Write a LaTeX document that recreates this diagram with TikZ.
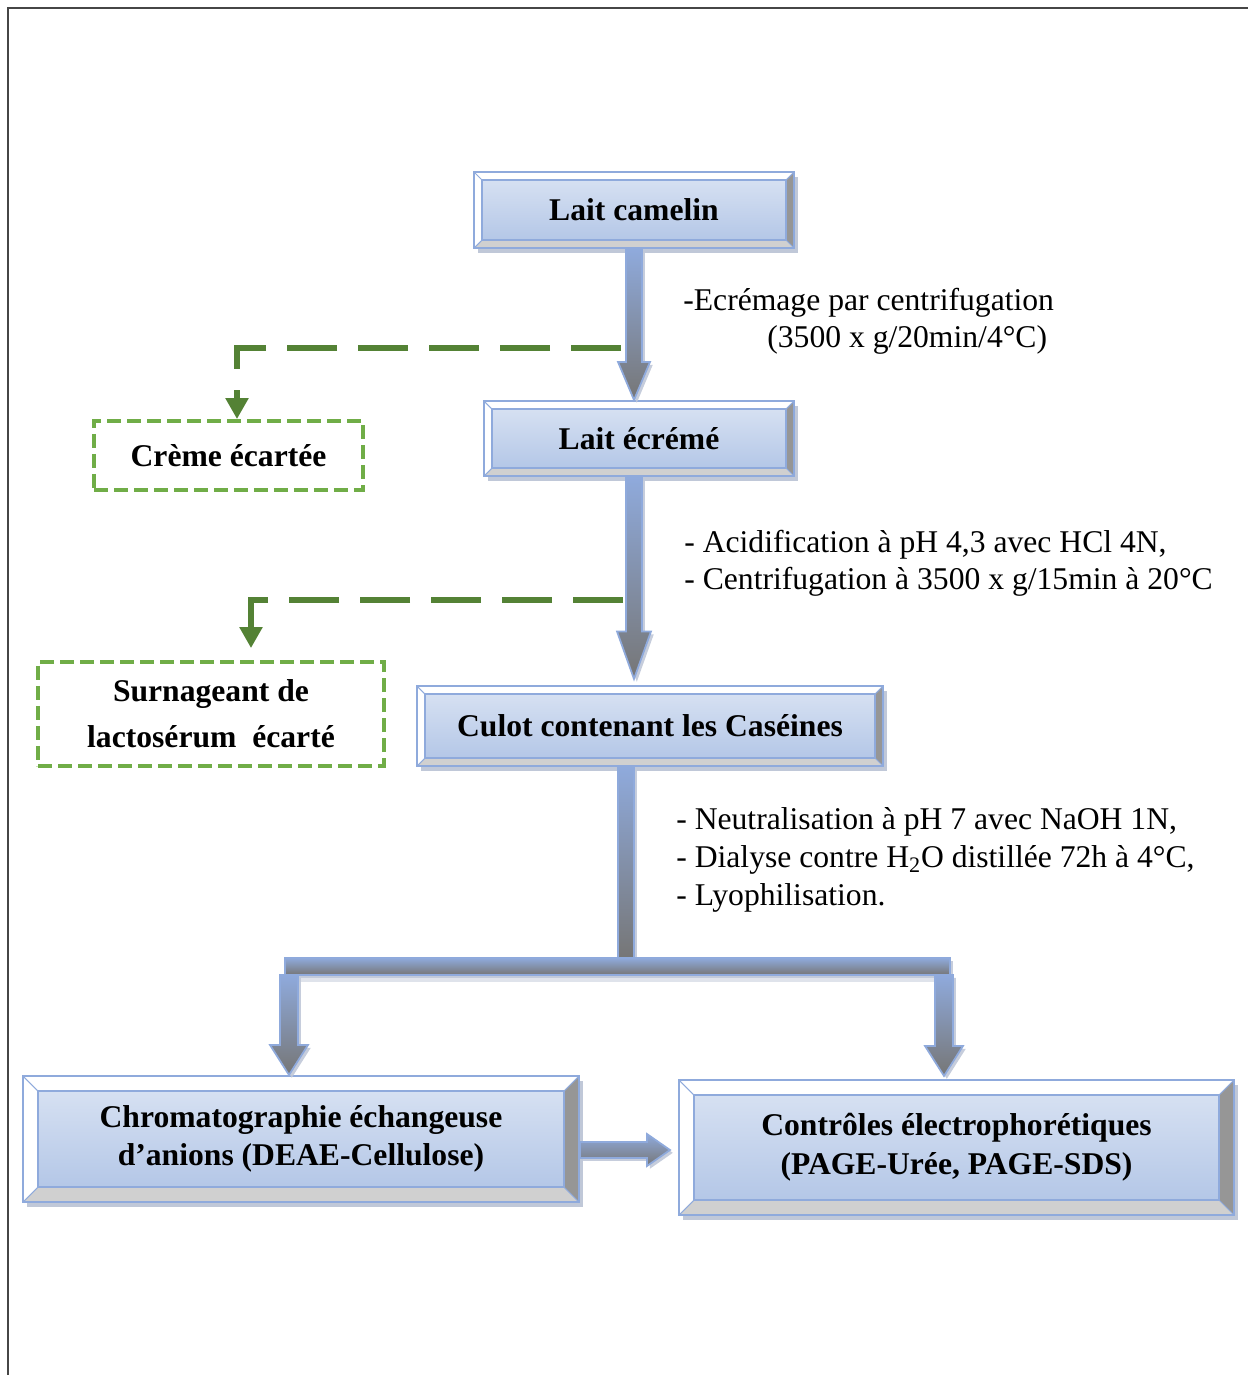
\documentclass[tikz,border=0pt]{standalone}
\usepackage{fontspec}
\setmainfont{Liberation Serif}
\usepackage{xcolor}
\usepackage{tikz}
\usetikzlibrary{arrows.meta,calc,shadows}
\definecolor{bevelblue}{RGB}{143,170,220}
\definecolor{bevelfill}{RGB}{180,199,231}
\definecolor{bevelgray}{RGB}{150,150,150}
\definecolor{bevellight}{RGB}{208,208,208}
\definecolor{shadowblue}{RGB}{192,200,216}
\definecolor{arrowblue}{RGB}{143,170,220}
\definecolor{arrowgray}{RGB}{118,118,118}
\definecolor{discardgreen}{RGB}{84,130,53}
\definecolor{dashgreen}{RGB}{112,173,71}
\definecolor{framegray}{RGB}{70,70,70}
\tikzset{
  bevelbox/.style={
    rectangle,
    draw=bevelblue,
    line width=1.2pt,
    fill=white,
    align=center,
    inner sep=0pt,
    font=\fontsize{18}{22}\selectfont\bfseries,
    drop shadow={shadow xshift=2.2pt, shadow yshift=-2.8pt, fill=shadowblue, opacity=1},
    path picture={
      \coordinate (bnw) at (path picture bounding box.north west);
      \coordinate (bne) at (path picture bounding box.north east);
      \coordinate (bsw) at (path picture bounding box.south west);
      \coordinate (bse) at (path picture bounding box.south east);
      \fill[bevelgray] (bne) -- (bse) -- ([shift={(-#1,#1)}]bse) -- ([shift={(-#1,-#1)}]bne) -- cycle;
      \fill[bevellight] (bsw) -- (bse) -- ([shift={(-#1,#1)}]bse) -- ([shift={(#1,#1)}]bsw) -- cycle;
      \shade[top color=bevelfill!55, middle color=white, bottom color=bevelfill, draw=bevelblue, line width=1pt]
        ([shift={(#1,-#1)}]bnw) rectangle ([shift={(-#1,#1)}]bse);
      \draw[bevelblue, line width=0.6pt] (bnw) -- ([shift={(#1,-#1)}]bnw) (bne) -- ([shift={(-#1,-#1)}]bne)
        (bsw) -- ([shift={(#1,#1)}]bsw) (bse) -- ([shift={(-#1,#1)}]bse);
    }
  },
  bevelbox/.default=0.16cm,
  dashbox/.style={
    rectangle,
    draw=dashgreen,
    line width=2.2pt,
    dash pattern=on 0.28cm off 0.12cm,
    align=center,
    inner sep=0pt,
    font=\fontsize{18}{22}\selectfont\bfseries
  },
  notetext/.style={
    align=left,
    inner sep=0pt,
    anchor=west,
    font=\fontsize{18}{21}\selectfont
  },
  flowshaft/.style={
    top color=arrowblue,
    bottom color=arrowgray,
    draw=arrowblue,
    line width=1pt,
    drop shadow={shadow xshift=1.6pt, shadow yshift=-1.6pt, fill=shadowblue, opacity=0.9}
  },
  discardarrow/.style={
    draw=discardgreen,
    line width=3.4pt,
    dash pattern=on 1cm off 0.42cm,
    -{Triangle[length=0.42cm,width=0.44cm]}
  }
}
\begin{document}
\begin{tikzpicture}
\useasboundingbox (0,0) rectangle (24.96,-27.5);
\draw[framegray, line width=1.1pt] (0.16,-27.5) -- (0.16,-0.16) -- (24.96,-0.16);

\node[bevelbox, minimum width=6.4cm, minimum height=1.52cm] (camelin) at (12.68,-4.20) {Lait camelin};
\node[bevelbox, minimum width=6.2cm, minimum height=1.5cm] (ecreme) at (12.78,-8.77) {Lait écrémé};
\node[bevelbox, minimum width=9.32cm, minimum height=1.6cm] (culot) at (13.0,-14.52) {Culot contenant les Caséines};
\node[bevelbox=0.3cm, minimum width=11.12cm, minimum height=2.52cm] (chromato) at (6.02,-22.78) {Chromatographie échangeuse\\d’anions (DEAE-Cellulose)};
\node[bevelbox=0.3cm, minimum width=11.1cm, minimum height=2.7cm] (controles) at (19.13,-22.95) {Contrôles électrophorétiques\\(PAGE-Urée, PAGE-SDS)};

\node[dashbox, minimum width=5.38cm, minimum height=1.38cm] (creme) at (4.57,-9.11) {Crème écartée};
\node[dashbox, minimum width=6.92cm, minimum height=2.08cm, font=\fontsize{18}{26}\selectfont\bfseries] (whey) at (4.22,-14.28) {\rule{0pt}{0.2cm}Surnageant de\\lactosérum~ écarté};

\node[notetext] (skimnote) at (13.66,-6.42) {-Ecrémage par centrifugation\\\hspace*{1.68cm}(3500 x g/20min/4°C)};
\node[notetext] (acidnote) at (13.68,-11.26) {- Acidification à pH 4,3 avec HCl 4N,\\- Centrifugation à 3500 x g/15min à 20°C};
\node[notetext, font=\fontsize{18}{21.5}\selectfont] (dialnote) at (13.52,-17.2) {- Neutralisation à pH 7 avec NaOH 1N,\\- Dialyse contre H\textsubscript{2}O distillée 72h à 4°C,\\- Lyophilisation.};

\coordinate (tipecreme) at (camelin.south |- ecreme.north);
\coordinate (topculot) at (camelin.south |- ecreme.south);
\coordinate (tipculot) at ([yshift=0.12cm]camelin.south |- culot.north);
\coordinate (forkstem) at ([xshift=-0.48cm]culot.south);
\coordinate (forkleft) at (5.7,-19.16);
\coordinate (forkright) at (19.0,-19.5);
\coordinate (tipchromato) at ([xshift=-0.24cm]chromato.north);
\coordinate (tipcontroles) at ([shift={(-0.25cm,0.06cm)}]controles.north);
\coordinate (hsplit) at ([yshift=-0.22cm]chromato.east);
\coordinate (htip) at (13.4,-23.0);
\coordinate (creamsplit) at (12.42,-6.96);
\coordinate (wheysplit) at (12.46,-12.0);

% main line
\shade[flowshaft] ([xshift=-0.16cm]camelin.south) -- ([shift={(-0.16cm,0.76cm)}]tipecreme) -- ([shift={(-0.32cm,0.76cm)}]tipecreme)
  -- (tipecreme) -- ([shift={(0.32cm,0.76cm)}]tipecreme) -- ([shift={(0.16cm,0.76cm)}]tipecreme) -- ([xshift=0.16cm]camelin.south) -- cycle;
\shade[flowshaft] ([xshift=-0.16cm]topculot) -- ([shift={(-0.16cm,0.95cm)}]tipculot) -- ([shift={(-0.34cm,0.95cm)}]tipculot)
  -- (tipculot) -- ([shift={(0.34cm,0.95cm)}]tipculot) -- ([shift={(0.16cm,0.95cm)}]tipculot) -- ([xshift=0.16cm]topculot) -- cycle;
\shade[flowshaft] ([xshift=-0.16cm]forkstem) rectangle ([xshift=0.16cm]forkstem |- forkleft);
\shade[flowshaft, drop shadow={shadow xshift=0pt, shadow yshift=-4pt, fill=shadowblue}] (forkleft) rectangle (forkright);

% branches
\shade[flowshaft] ([xshift=-0.18cm]tipchromato |- forkright) -- ([shift={(-0.18cm,0.6cm)}]tipchromato) -- ([shift={(-0.38cm,0.6cm)}]tipchromato)
  -- (tipchromato) -- ([shift={(0.38cm,0.6cm)}]tipchromato) -- ([shift={(0.18cm,0.6cm)}]tipchromato) -- ([xshift=0.18cm]tipchromato |- forkright) -- cycle;
\shade[flowshaft] ([xshift=-0.18cm]tipcontroles |- forkright) -- ([shift={(-0.18cm,0.6cm)}]tipcontroles) -- ([shift={(-0.38cm,0.6cm)}]tipcontroles)
  -- (tipcontroles) -- ([shift={(0.38cm,0.6cm)}]tipcontroles) -- ([shift={(0.18cm,0.6cm)}]tipcontroles) -- ([xshift=0.18cm]tipcontroles |- forkright) -- cycle;
\shade[flowshaft] ([yshift=0.16cm]hsplit) -- ([shift={(-0.46cm,0.16cm)}]htip) -- ([shift={(-0.46cm,0.32cm)}]htip)
  -- (htip) -- ([shift={(-0.46cm,-0.32cm)}]htip) -- ([shift={(-0.46cm,-0.16cm)}]htip) -- ([yshift=-0.16cm]hsplit) -- cycle;

% discarded fractions
\draw[discardarrow] (creamsplit) -| ([xshift=0.17cm]creme.north);
\draw[discardarrow, shorten >=0.24cm] (wheysplit) -| ([xshift=0.8cm]whey.north);
\end{tikzpicture}
\end{document}
